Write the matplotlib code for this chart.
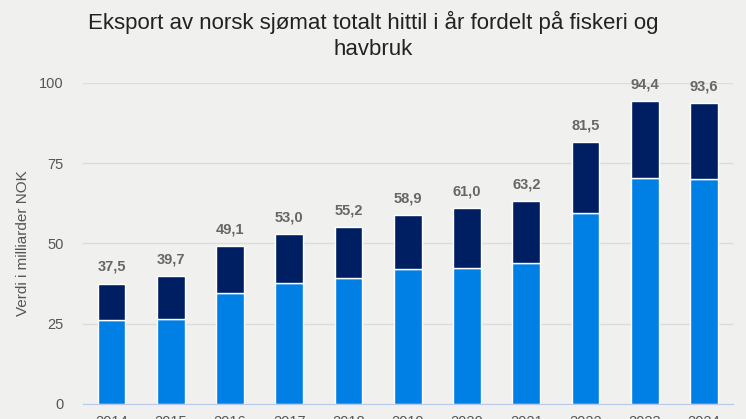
import numpy as np
import matplotlib.pyplot as plt

plt.rcParams['font.family'] = ['Liberation Sans', 'DejaVu Sans']

# data (milliarder NOK)
years = ['2014', '2015', '2016', '2017', '2018', '2019', '2020', '2021', '2022', '2023', '2024']
totals = [37.5, 39.7, 49.1, 53.0, 55.2, 58.9, 61.0, 63.2, 81.5, 94.4, 93.6]
havbruk = [26.1, 26.5, 34.7, 37.8, 39.2, 41.9, 42.3, 43.9, 59.3, 70.2, 69.9]
fiskeri = [t - h for t, h in zip(totals, havbruk)]

bg = '#f0f1ef'
light = '#0080e4'
dark = '#001e62'

fig = plt.figure(figsize=(7.46, 4.19), dpi=100, facecolor=bg)
ax = fig.add_axes([0.111, 0.0358, 0.8716, 0.7668], facecolor=bg)

x = np.arange(len(years))
w = 0.47
ax.bar(x, havbruk, w, color=light, edgecolor='white', linewidth=1, zorder=3)
ax.bar(x, fiskeri, w, bottom=havbruk, color=dark, edgecolor='white', linewidth=1, zorder=3)

# total value above each stack
for xi, t in zip(x, totals):
    ax.text(xi, t + 3.0, f'{t:.1f}'.replace('.', ','), ha='center', va='bottom',
            fontsize=10.5, fontweight='bold', color='#666666')

ax.set_xlim(-0.485, 10.49)
ax.set_ylim(0, 100)
ax.set_yticks([0, 25, 50, 75, 100])
ax.set_xticks(x)
ax.set_xticklabels(years)
ax.tick_params(axis='both', length=0, labelsize=10.5, labelcolor='#555555')
ax.tick_params(axis='x', pad=8)
ax.tick_params(axis='y', pad=14)
ax.grid(axis='y', color='#dcdcdc', linewidth=1, zorder=0)
for s in ['top', 'right', 'left']:
    ax.spines[s].set_visible(False)
ax.spines['bottom'].set_color('#b8c9ec')
ax.spines['bottom'].set_zorder(4)

ax.set_ylabel('Verdi i milliarder NOK', fontsize=11, color='#555555', labelpad=6)

fig.suptitle('Eksport av norsk sjømat totalt hittil i år fordelt på fiskeri og\nhavbruk',
             x=0.5, y=0.975, fontsize=16, color='#222222', linespacing=1.35)

fig.savefig('out.png', dpi=100, facecolor=bg)
